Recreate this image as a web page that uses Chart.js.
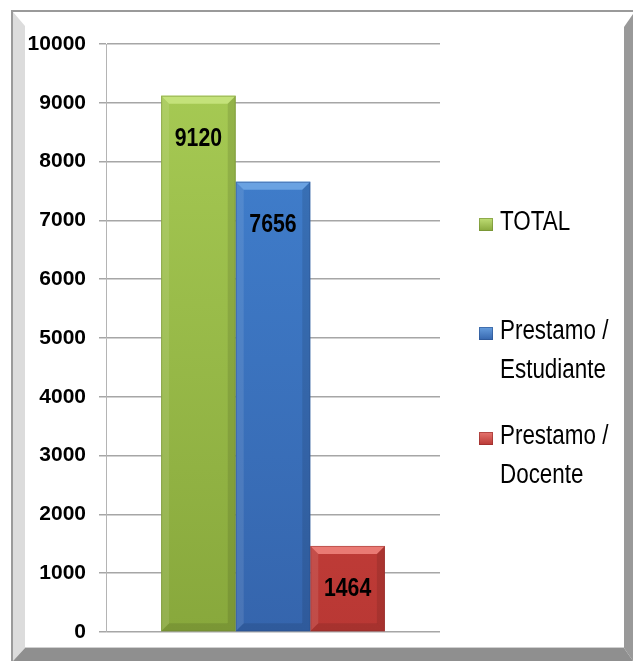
<!DOCTYPE html>
<html>
<head>
<meta charset="utf-8">
<script src="https://cdn.jsdelivr.net/npm/chart.js@4.4.1/dist/chart.umd.min.js"></script>
<style>
  html, body { margin: 0; padding: 0; background: #ffffff; }
  #wrap { width: 633px; height: 661px; position: relative; }
</style>
</head>
<body>
<div id="wrap"><canvas id="chart" width="633" height="661"></canvas></div>
<script>
// data
const categories = [""];
const seriesNames = [["TOTAL"], ["Prestamo /", "Estudiante"], ["Prestamo /", "Docente"]];
const seriesValues = [[9120], [7656], [1464]];
const yTicks = [0, 1000, 2000, 3000, 4000, 5000, 6000, 7000, 8000, 9000, 10000];

// colours per series: [top bevel, body top, body bottom, dark edge]
const palette = [
  ["#c4e27a", "#a8cc55", "#88a83c", "#6f8a30"],
  ["#6aa2e2", "#4283d2", "#3565ad", "#2a5290"],
  ["#ea7a74", "#db4a44", "#b93834", "#942c29"]
];

const fontFamily = "'Liberation Sans', Arial, sans-serif";

function bodyGradient(ctx, i) {
  const chart = ctx.chart;
  const area = chart.chartArea;
  if (!area) return palette[i][1];
  const g = chart.ctx.createLinearGradient(0, area.top, 0, area.bottom);
  g.addColorStop(0, palette[i][1]);
  g.addColorStop(1, palette[i][2]);
  return g;
}

// text squeezed horizontally, to get close to the narrow Office font
function narrowText(c, text, x, y, sx, align) {
  c.save();
  c.translate(x, y);
  c.scale(sx, 1);
  c.textAlign = align;
  c.textBaseline = "middle";
  c.fillText(text, 0, 0);
  c.restore();
}

// frame around the whole chart
const framePlugin = {
  id: "frame",
  beforeDraw(chart) {
    const c = chart.ctx;
    const W = chart.width, H = chart.height;
    c.save();
    c.fillStyle = "#ffffff";
    c.fillRect(0, 0, W, H);
    c.fillStyle = "#9a9a9a";
    c.fillRect(11, 10, W - 11, 2);
    c.fillRect(11, 10, 2, H - 10);
    // left light bevel
    c.fillStyle = "#dcdcdc";
    c.beginPath();
    c.moveTo(13, 12); c.lineTo(25, 26); c.lineTo(25, 648); c.lineTo(13, 661);
    c.closePath(); c.fill();
    // right dark bevel
    c.fillStyle = "#999999";
    c.beginPath();
    c.moveTo(W, 14); c.lineTo(624, 27); c.lineTo(624, 648); c.lineTo(W, H);
    c.closePath(); c.fill();
    // bottom dark bevel
    c.fillStyle = "#8f8f8f";
    c.beginPath();
    c.moveTo(25, 648); c.lineTo(624, 648); c.lineTo(W, H); c.lineTo(13, H);
    c.closePath(); c.fill();
    c.fillStyle = "#d0d0d0";
    c.fillRect(25, 647, 599, 1);
    c.restore();
  }
};

// bevel, value labels and legend, all placed from the dataset elements
const bevelPlugin = {
  id: "bevel",
  afterDatasetsDraw(chart) {
    const c = chart.ctx;
    chart.data.datasets.forEach((ds, i) => {
      const meta = chart.getDatasetMeta(i);
      meta.data.forEach((el, j) => {
        const p = el.getProps(["x", "y", "base", "width"], true);
        const l = p.x - p.width / 2, r = p.x + p.width / 2;
        const t = p.y, b = p.base;
        const bv = Math.min(8, (b - t) / 3);
        c.save();
        c.fillStyle = palette[i][0];
        c.beginPath();
        c.moveTo(l, t); c.lineTo(r, t); c.lineTo(r - bv, t + bv); c.lineTo(l + bv, t + bv);
        c.closePath(); c.fill();
        c.fillStyle = "rgba(255,255,255,0.10)";
        c.beginPath();
        c.moveTo(l, t); c.lineTo(l + bv, t + bv); c.lineTo(l + bv, b - bv); c.lineTo(l, b);
        c.closePath(); c.fill();
        c.fillStyle = "rgba(0,0,0,0.10)";
        c.beginPath();
        c.moveTo(r, t); c.lineTo(r - bv, t + bv); c.lineTo(r - bv, b - bv); c.lineTo(r, b);
        c.closePath(); c.fill();
        c.fillStyle = "rgba(0,0,0,0.10)";
        c.beginPath();
        c.moveTo(l, b); c.lineTo(l + bv, b - bv); c.lineTo(r - bv, b - bv); c.lineTo(r, b);
        c.closePath(); c.fill();
        c.strokeStyle = palette[i][3];
        c.globalAlpha = 0.5;
        c.lineWidth = 1;
        c.strokeRect(l + 0.5, t + 0.5, p.width - 1, b - t - 1);
        c.globalAlpha = 1;
        c.fillStyle = "#000000";
        c.font = "bold 25px " + fontFamily;
        narrowText(c, String(ds.data[j]), p.x, t + 43, 0.85, "center");
        c.restore();
      });
    });
  },
  afterDraw(chart) {
    const c = chart.ctx;
    const tops = [223, 332, 437];
    c.save();
    chart.data.datasets.forEach((ds, i) => {
      const y = tops[i];
      const g = c.createLinearGradient(0, y - 6, 0, y + 8);
      g.addColorStop(0, palette[i][0]);
      g.addColorStop(1, palette[i][2]);
      c.fillStyle = g;
      c.fillRect(479, y - 5, 14, 13);
      c.strokeStyle = palette[i][3];
      c.globalAlpha = 0.6;
      c.strokeRect(479.5, y - 4.5, 13, 12);
      c.globalAlpha = 1;
      c.fillStyle = "#000000";
      c.font = "27px " + fontFamily;
      ds.label.forEach((line, k) => {
        narrowText(c, line, 500, y + k * 39, 0.83, "left");
      });
    });
    c.restore();
  }
};

new Chart(document.getElementById("chart"), {
  type: "bar",
  data: {
    labels: categories,
    datasets: seriesValues.map((vals, i) => ({
      label: seriesNames[i],
      data: vals,
      backgroundColor: (ctx) => bodyGradient(ctx, i),
      borderWidth: 0
    }))
  },
  options: {
    responsive: false,
    animation: false,
    layout: { padding: { left: 0, right: 193, top: 44, bottom: 29 } },
    datasets: { bar: { categoryPercentage: 0.67, barPercentage: 1.0 } },
    plugins: {
      legend: { display: false },
      tooltip: { enabled: false }
    },
    scales: {
      x: { display: false },
      y: {
        min: 0,
        max: 10000,
        afterFit(scale) { scale.width = 106; },
        afterBuildTicks(scale) { scale.ticks = yTicks.map((v) => ({ value: v })); },
        ticks: {
          color: "#000000",
          padding: 13,
          font: { family: fontFamily, size: 21, weight: "bold" },
          callback: (v) => String(v)
        },
        grid: { color: "#a6a6a6", lineWidth: 1.5, tickLength: 7 },
        border: { color: "#b4b4b4", width: 1 }
      }
    }
  },
  plugins: [framePlugin, bevelPlugin]
});
</script>
</body>
</html>
